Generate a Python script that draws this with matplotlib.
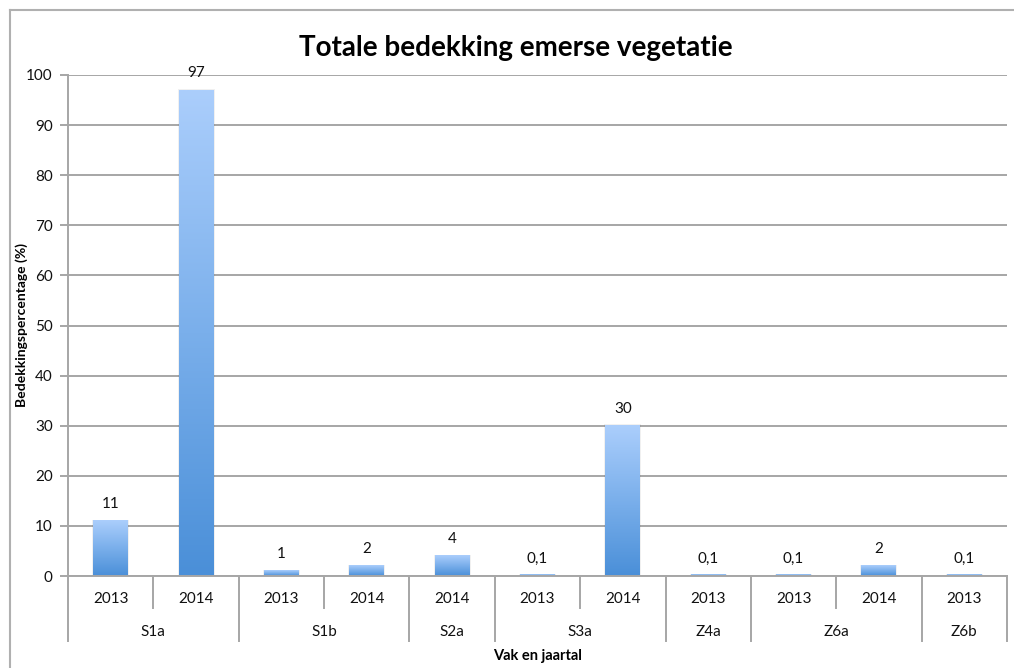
import numpy as np
import matplotlib
matplotlib.use("Agg")
import matplotlib.pyplot as plt
from matplotlib.colors import LinearSegmentedColormap
from matplotlib.transforms import blended_transform_factory
from matplotlib.lines import Line2D

plt.rcParams['font.family'] = ['Lato', 'DejaVu Sans']

# Data
years = ["2013", "2014", "2013", "2014", "2014", "2013", "2014", "2013", "2013", "2014", "2013"]
values = [11, 97, 1, 2, 4, 0.1, 30, 0.1, 0.1, 2, 0.1]
value_labels = ["11", "97", "1", "2", "4", "0,1", "30", "0,1", "0,1", "2", "0,1"]
groups = ["S1a", "S1b", "S2a", "S3a", "Z4a", "Z6a", "Z6b"]
group_sizes = [2, 2, 1, 2, 1, 2, 1]

W, H = 1014, 668
fig = plt.figure(figsize=(W / 100, H / 100), dpi=100)

# Outer chart frame
grey = "#A6A6A6"
fig.add_artist(Line2D([9.5 / W, 9.5 / W], [0, 1 - 10 / H], transform=fig.transFigure,
                      color="#B0B0B0", lw=1.5))
fig.add_artist(Line2D([9.5 / W, 1], [1 - 10 / H, 1 - 10 / H], transform=fig.transFigure,
                      color="#B0B0B0", lw=1.5))

left, right, top, bottom = 68, 1007, 75, 576
ax = fig.add_axes([left / W, (H - bottom) / H, (right - left) / W, (bottom - top) / H])
ax.set_xlim(0, len(values))
ax.set_ylim(0, 100)
ax.set_yticks(range(0, 101, 10))
ax.set_xticks([])
ax.yaxis.grid(True, color=grey, lw=1.4)
ax.set_axisbelow(True)
for s in ["top", "right", "bottom"]:
    ax.spines[s].set_visible(False)
ax.spines["left"].set_color(grey)
ax.spines["left"].set_linewidth(1.4)
ax.tick_params(axis="y", length=6, width=1.4, color=grey, labelsize=11,
               labelcolor="#111111", pad=5)

cmap = LinearSegmentedColormap.from_list("barfill", ["#4A8FD8", "#7AAFEB", "#ABCEFC"])
grad = np.linspace(0, 1, 256).reshape(-1, 1)
bw = 0.41
for i, (v, lab) in enumerate(zip(values, value_labels)):
    xc = i + 0.5
    # soft shadow
    ax.add_patch(plt.Rectangle((xc - bw / 2 - 0.012, 0), bw + 0.024, v + 0.25,
                               color="#000000", alpha=0.06, lw=0, zorder=2))
    ax.imshow(grad, extent=[xc - bw / 2, xc + bw / 2, 0, max(v, 0.35)], origin="lower",
              cmap=cmap, aspect="auto", zorder=3, interpolation="bilinear")
    ax.annotate(lab, (xc, v), xytext=(0, 7), textcoords="offset points",
                ha="center", va="bottom", fontsize=11, color="#111111")
ax.set_xlim(0, len(values))
ax.set_ylim(0, 100)

# Category axis (year row and group row)
tr = blended_transform_factory(ax.transData, ax.transAxes)
axh = bottom - top
y_row1 = -(608 - bottom) / axh
y_row2 = -(641 - bottom) / axh
ax.plot([0, len(values)], [0, 0], transform=tr, color=grey, lw=1.4, clip_on=False, zorder=4)
for i, y in enumerate(years):
    ax.text(i + 0.5, -(599 - bottom) / axh, y, transform=tr, ha="center", va="center",
            fontsize=11, color="#111111")
pos = 0
boundaries = [0]
for g, n in zip(groups, group_sizes):
    ax.text(pos + n / 2, -(632 - bottom) / axh, g, transform=tr, ha="center", va="center",
            fontsize=11, color="#111111")
    for k in range(1, n):
        ax.plot([pos + k, pos + k], [0, y_row1], transform=tr, color=grey, lw=1.4,
                clip_on=False)
    pos += n
    boundaries.append(pos)
for b in boundaries:
    ax.plot([b, b], [0, y_row2], transform=tr, color=grey, lw=1.4, clip_on=False)

ax.text(0.5 * len(values), -(656 - bottom) / axh, "Vak en jaartal", transform=tr,
        ha="center", va="center", fontsize=10.5, fontweight="bold")
fig.text(22 / W, 1 - 325 / H, "Bedekkingspercentage (%)", rotation=90, ha="center",
         va="center", fontsize=10, fontweight="bold")
fig.text(516 / W, 1 - 48 / H, "Totale bedekking emerse vegetatie", ha="center",
         va="center", fontsize=20, fontweight="bold")

fig.savefig("out.png", dpi=100)
